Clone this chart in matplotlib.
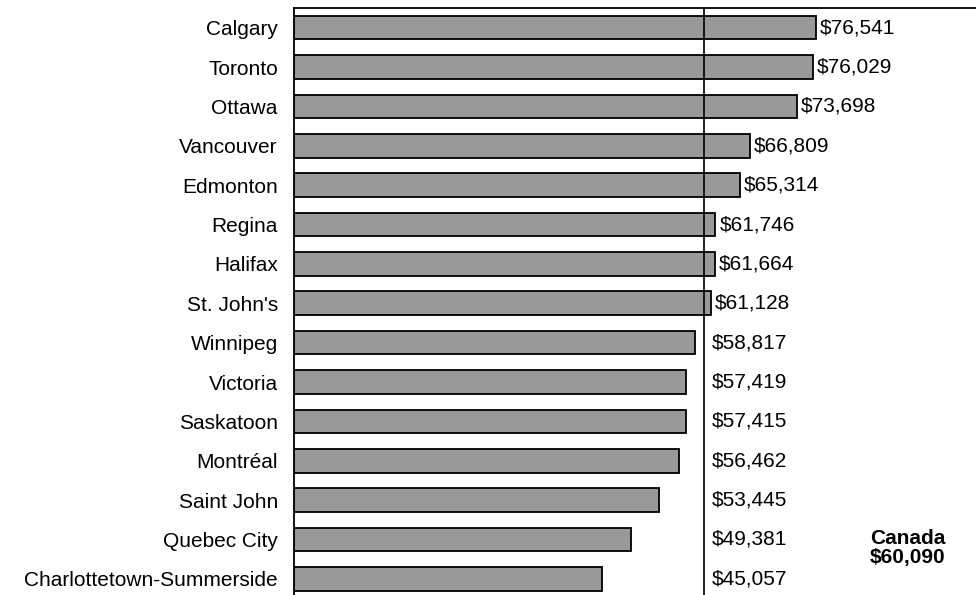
import matplotlib.pyplot as plt

plt.rcParams['font.family'] = ['Liberation Sans', 'DejaVu Sans']

cities = ["Calgary", "Toronto", "Ottawa", "Vancouver", "Edmonton", "Regina",
          "Halifax", "St. John's", "Winnipeg", "Victoria", "Saskatoon",
          "Montréal", "Saint John", "Quebec City", "Charlottetown-Summerside"]
incomes = [76541, 76029, 73698, 66809, 65314, 61746, 61664, 61128,
           58817, 57419, 57415, 56462, 53445, 49381, 45057]
canada = 60090

fig = plt.figure(figsize=(9.76, 5.95), dpi=100)
ax = fig.add_axes([0.3017, 0.0, 0.6983, 0.9866])

pos = list(range(len(cities)))
ax.barh(pos, incomes, height=0.6, color="#999999", edgecolor="black", linewidth=1.3)
ax.axvline(canada, color="black", linewidth=1.2)

# labels sit right of the bar, or right of the Canada line for shorter bars
for p, v in zip(pos, incomes):
    if v >= canada:
        x, off = v, 4
    else:
        x, off = canada, 8
    ax.annotate(f"${v:,}", xy=(x, p), xytext=(off, 0), textcoords="offset pixels",
                ha="left", va="center", fontsize=15)

ax.text(0.900, 0.0874, "Canada", transform=ax.transAxes,
        ha="center", va="baseline", fontsize=15, fontweight="bold")
ax.text(0.900, 0.0538, f"${canada:,}", transform=ax.transAxes,
        ha="center", va="baseline", fontsize=15, fontweight="bold")

ax.set_xlim(0, 100000)
ax.set_ylim(14.41, -0.5)
ax.set_yticks(pos)
ax.set_yticklabels(cities, fontsize=15)
ax.tick_params(axis="y", length=0, pad=12)
ax.set_xticks([])
ax.spines["right"].set_visible(False)
ax.spines["bottom"].set_visible(False)
ax.spines["left"].set_linewidth(1.3)
ax.spines["top"].set_linewidth(1.3)

fig.savefig("out.png", dpi=100)
